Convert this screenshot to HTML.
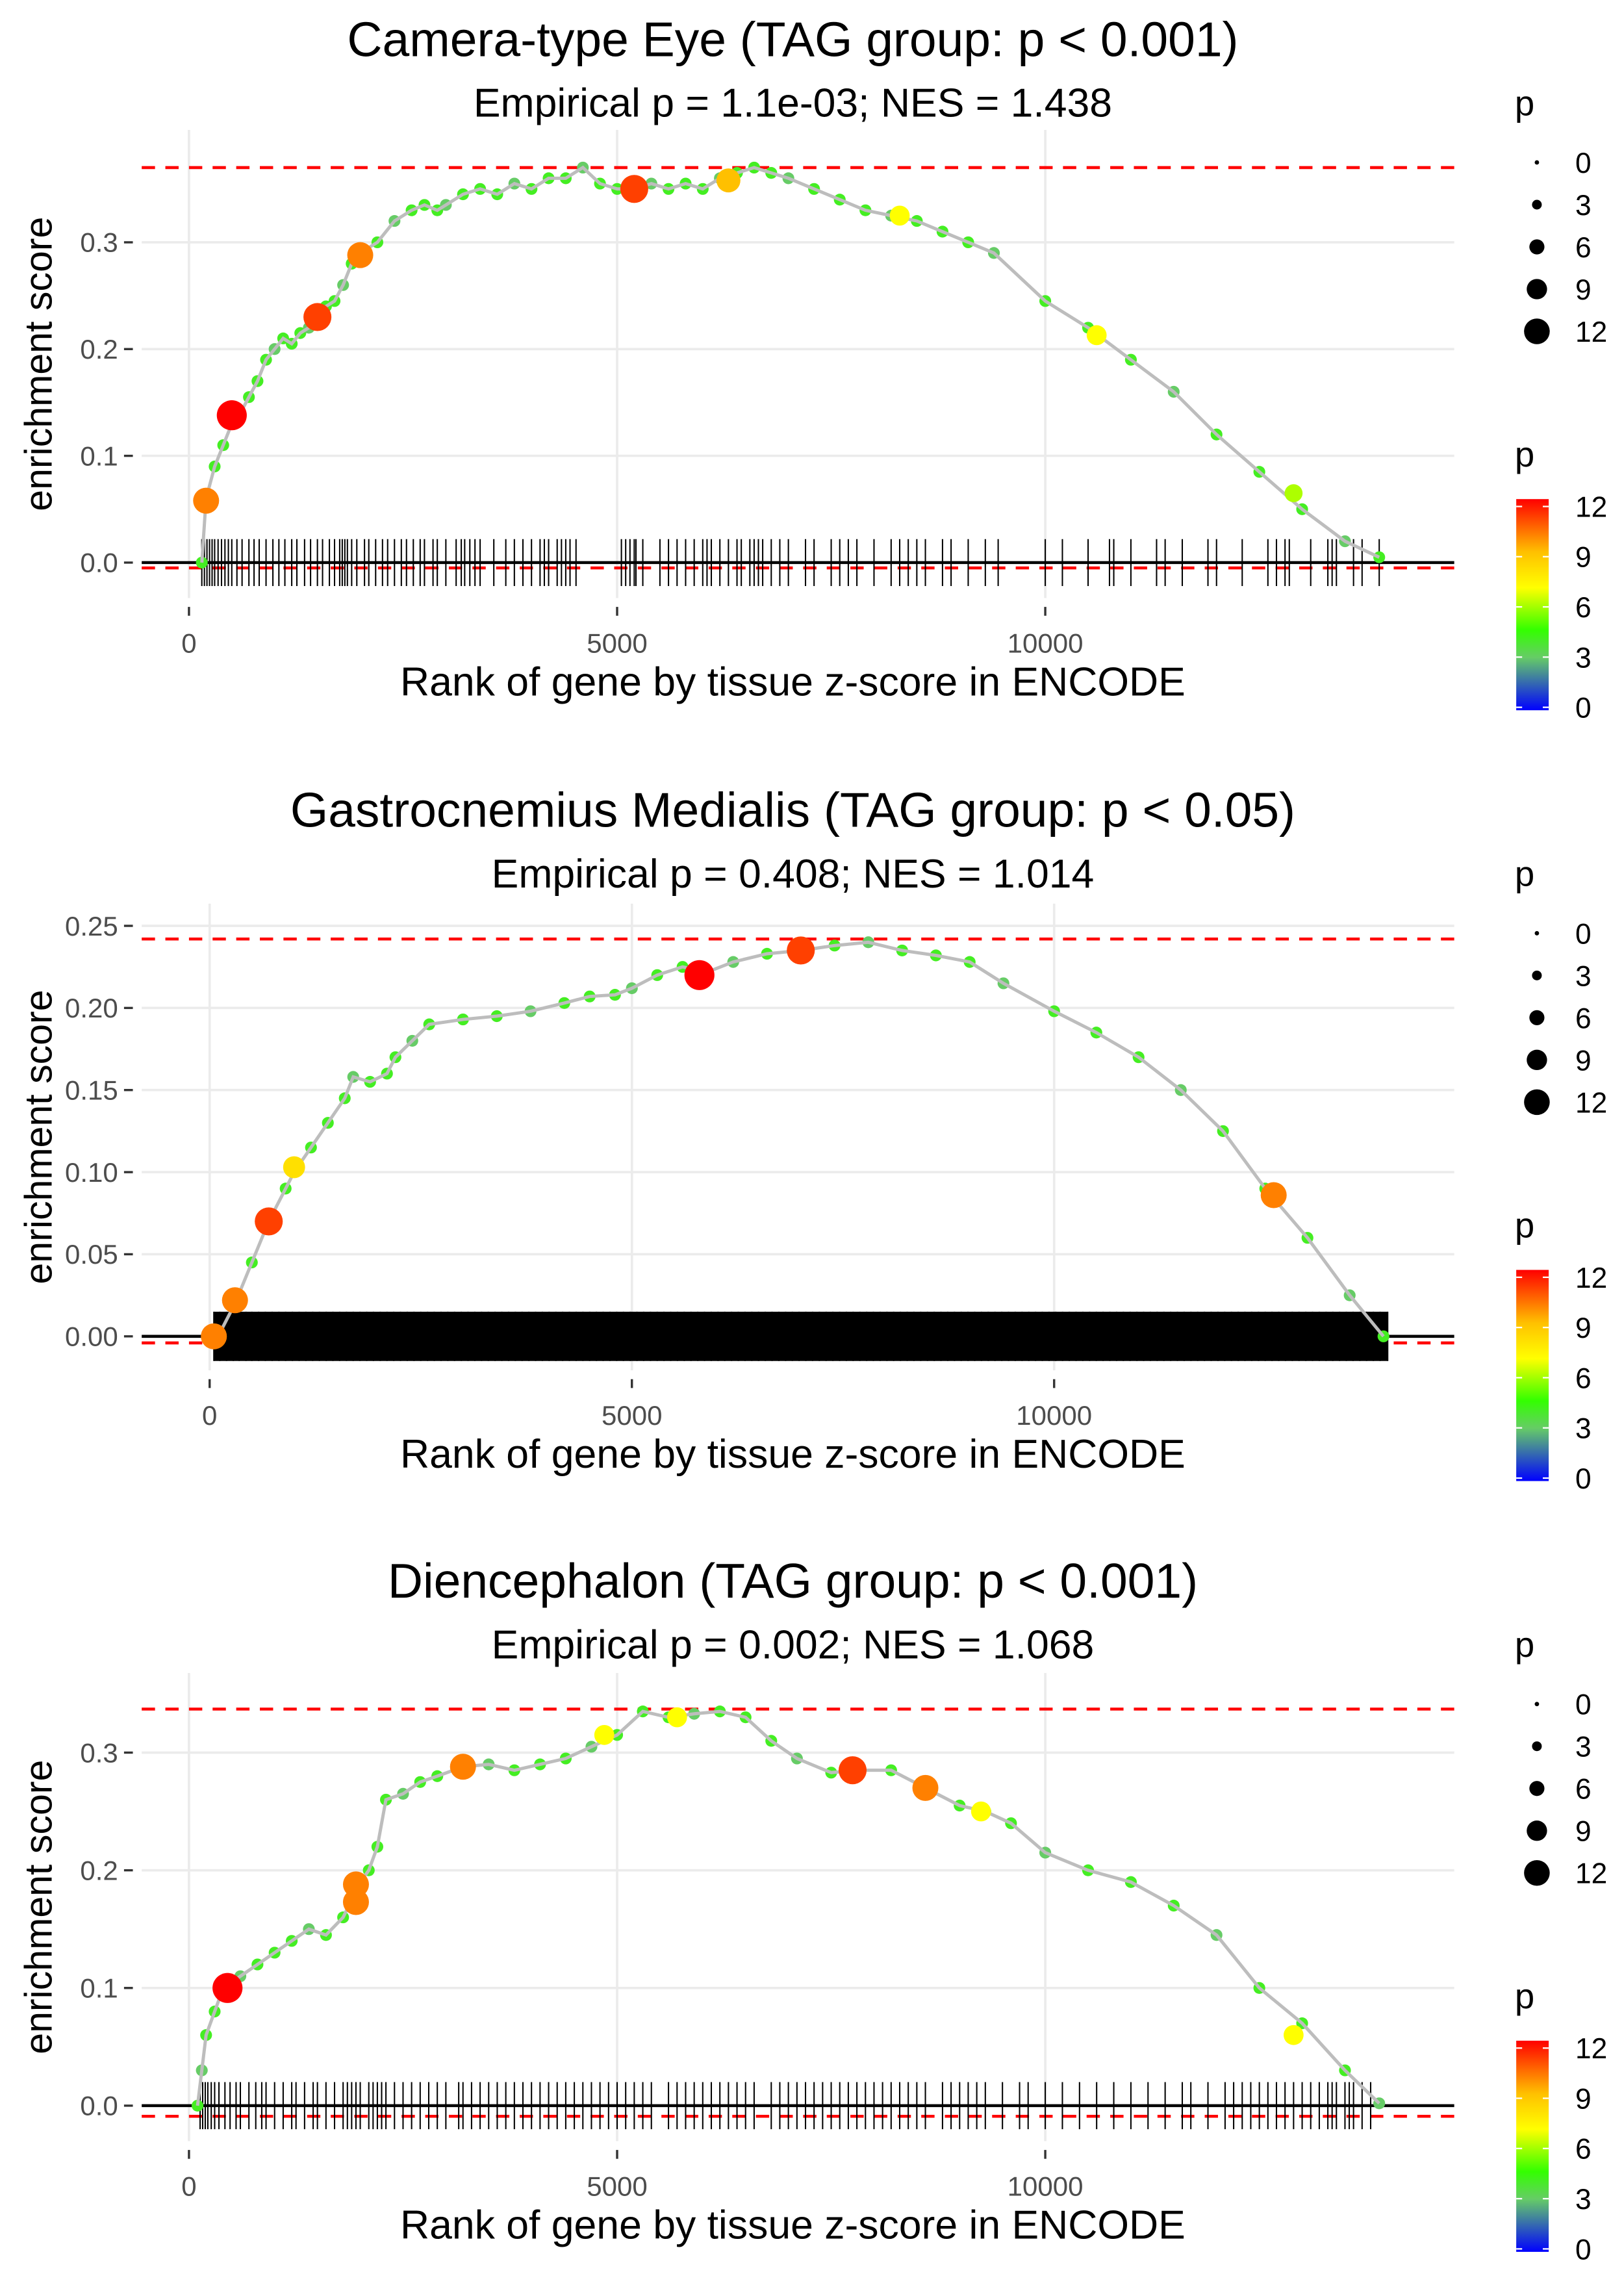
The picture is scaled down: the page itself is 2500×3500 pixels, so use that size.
<!DOCTYPE html>
<html><head><meta charset="utf-8"><style>
html,body{margin:0;padding:0;background:#fff}
svg{display:block}
text{font-family:"Liberation Sans",sans-serif}
</style></head><body>
<svg id="root" width="2500" height="3500" viewBox="0 0 1100 1540" xmlns="http://www.w3.org/2000/svg">
<defs>
<linearGradient id="pgrad" x1="0" y1="1" x2="0" y2="0">
<stop offset="0" stop-color="#0000ff"/><stop offset="0.25" stop-color="#66cc66"/><stop offset="0.38" stop-color="#33ff00"/><stop offset="0.58" stop-color="#ffff00"/><stop offset="0.75" stop-color="#ffc000"/><stop offset="1" stop-color="#ff0000"/>
</linearGradient>
</defs>
</svg>
<script>
// ---- Panel 1 data ----
const p1Ranks=[150,200,300,400,500,600,700,800,900,1000,1100,1200,1300,1400,1500,1600,1700,1800,1900,2000,2200,2400,2600,2750,2900,3000,3200,3400,3600,3800,4000,4200,4400,4600,4800,5000,5200,5400,5600,5800,6000,6200,6400,6600,6800,7000,7300,7600,7900,8200,8500,8800,9100,9400,10000,10500,11000,11500,12000,12500,13000,13500,13900];
const p1ES=[0,0.06,0.09,0.11,0.13,0.14,0.155,0.17,0.19,0.2,0.21,0.205,0.215,0.22,0.23,0.24,0.245,0.26,0.28,0.29,0.3,0.32,0.33,0.335,0.33,0.335,0.345,0.35,0.345,0.355,0.35,0.36,0.36,0.37,0.355,0.35,0.35,0.355,0.35,0.355,0.35,0.36,0.365,0.37,0.365,0.36,0.35,0.34,0.33,0.325,0.32,0.31,0.3,0.29,0.245,0.22,0.19,0.16,0.12,0.085,0.05,0.02,0.005];
const p1BigRanks=[200,500,1500,2000,5200,6300,8300,10600,12900];
const p1BigES=[0.058,0.138,0.23,0.288,0.35,0.358,0.325,0.213,0.065];
const p1BigP=[10,12,11,10,11,9,7,7,6];
const p1Rug=[150,180,210,240,270,300,340,380,420,460,500,560,620,700,760,820,900,980,1050,1120,1200,1260,1350,1420,1500,1560,1640,1700,1760,1790,1820,1850,1900,1960,2050,2100,2180,2260,2320,2400,2480,2540,2620,2700,2750,2850,2900,3000,3120,3180,3220,3280,3340,3400,3560,3700,3800,3900,4000,4100,4150,4200,4300,4350,4400,4450,4520,5050,5100,5150,5200,5220,5300,5500,5600,5700,5800,5900,6000,6050,6100,6200,6300,6400,6450,6550,6600,6650,6700,6800,6900,7000,7200,7300,7500,7600,7700,7800,8000,8200,8300,8400,8500,8600,8800,8900,9100,9300,9450,10000,10200,10500,10750,10800,11000,11300,11400,11600,11900,12000,12300,12600,12700,12800,12850,13100,13300,13350,13400,13600,13700,13900];
// ---- Panel 2 data ----
const p2Ranks=[100,300,500,700,900,1000,1200,1400,1600,1700,1900,2100,2200,2400,2600,3000,3400,3800,4200,4500,4800,5000,5300,5600,5900,6200,6600,7000,7400,7800,8200,8600,9000,9400,10000,10500,11000,11500,12000,12500,13000,13500,13900];
const p2ES=[0,0.02,0.045,0.07,0.09,0.1,0.115,0.13,0.145,0.158,0.155,0.16,0.17,0.18,0.19,0.193,0.195,0.198,0.203,0.207,0.208,0.212,0.22,0.225,0.222,0.228,0.233,0.235,0.238,0.24,0.235,0.232,0.228,0.215,0.198,0.185,0.17,0.15,0.125,0.09,0.06,0.025,0];
const p2BigRanks=[50,300,700,1000,5800,7000,12600];
const p2BigES=[0.0,0.022,0.07,0.103,0.22,0.235,0.086];
const p2BigP=[10,10,11,8,12,11,10];
const p2Rug=[50,120,200,280,350,430,500,580,660,740,820,900,980,1060,1140,1220,1300,1380,1460,1540,1620,1700,1780,1860,1940,2020,2100,2180,2260,2340,2420,2500,2580,2660,2740,2820,2900,2980,3060,3140,3220,3300,3380,3460,3540,3620,3700,3780,3860,3940,4020,4100,4180,4260,4340,4420,4500,4580,4660,4740,4820,4900,4980,5060,5140,5220,5300,5380,5460,5540,5620,5700,5780,5860,5940,6020,6100,6180,6260,6340,6420,6500,6580,6660,6740,6820,6900,6980,7060,7140,7220,7300,7380,7460,7540,7620,7700,7780,7860,7940,8020,8100,8180,8260,8340,8420,8500,8580,8660,8740,8820,8900,8980,9060,9140,9220,9300,9380,9460,9540,9620,9700,9780,9860,9940,10020,10100,10180,10260,10340,10420,10500,10580,10660,10740,10820,10900,10980,11060,11140,11220,11300,11380,11460,11540,11620,11700,11780,11860,11940,12020,12100,12180,12260,12340,12420,12500,12580,12660,12740,12820,12900,12980,13060,13140,13220,13300,13380,13460,13540,13620,13700,13780,13860,13950];
// ---- Panel 3 data ----
const p3Ranks=[100,150,200,300,400,600,800,1000,1200,1400,1600,1800,1900,2000,2100,2200,2300,2500,2700,2900,3200,3500,3800,4100,4400,4700,5000,5300,5600,5900,6200,6500,6800,7100,7500,7800,8200,8600,9000,9300,9600,10000,10500,11000,11500,12000,12500,13000,13500,13900];
const p3ES=[0,0.03,0.06,0.08,0.1,0.11,0.12,0.13,0.14,0.15,0.145,0.16,0.175,0.19,0.2,0.22,0.26,0.265,0.275,0.28,0.288,0.29,0.285,0.29,0.295,0.305,0.315,0.335,0.33,0.333,0.335,0.33,0.31,0.295,0.283,0.285,0.285,0.27,0.255,0.25,0.24,0.215,0.2,0.19,0.17,0.145,0.1,0.07,0.03,0.002];
const p3BigRanks=[450,1950,1950,3200,4850,5700,7750,8600,9250,12900];
const p3BigES=[0.1,0.173,0.188,0.288,0.315,0.33,0.285,0.27,0.25,0.06];
const p3BigP=[12,10,10,10,7,7,11,10,7,7];
const p3Rug=[130,160,190,220,260,300,350,420,480,550,600,700,780,850,900,1000,1100,1200,1250,1350,1450,1500,1600,1700,1800,1850,1900,1950,2000,2100,2150,2200,2250,2300,2400,2500,2600,2700,2800,2900,3000,3150,3200,3300,3400,3500,3600,3700,3800,3900,4000,4100,4200,4300,4400,4500,4600,4700,4800,4900,5000,5100,5200,5300,5400,5600,5700,5800,5900,6000,6100,6200,6300,6400,6500,6600,6800,6900,7000,7100,7200,7300,7400,7500,7600,7700,7800,7900,8000,8100,8200,8300,8400,8500,8600,8800,8900,9000,9100,9200,9300,9500,9700,9800,10000,10200,10400,10600,10800,11000,11200,11400,11600,11700,11900,12100,12200,12300,12400,12500,12600,12700,12800,12900,13000,13100,13200,13300,13350,13400,13500,13550,13600,13700,13800];

const NS="http://www.w3.org/2000/svg";
const root=document.getElementById('root');
function mk(tag,attrs,parent,txt){const e=document.createElementNS(NS,tag);for(const k in attrs)e.setAttribute(k,attrs[k]);if(txt!==undefined)e.textContent=txt;(parent||root).appendChild(e);return e;}
function pcolor(p){const stops=[[0,[0,0,255]],[3,[102,204,102]],[4.5,[51,255,0]],[7,[255,255,0]],[9,[255,192,0]],[12,[255,0,0]]];
 for(let i=1;i<stops.length;i++){if(p<=stops[i][0]){const a=stops[i-1],b=stops[i],t=(p-a[0])/(b[0]-a[0]);return 'rgb('+a[1].map((v,j)=>Math.round(v+(b[1][j]-v)*t)).join(',')+')';}}return 'rgb(255,0,0)';}

function panel(o){
 const g=mk('g',{});
 
 
 const X=r=>o.x0+r*o.xs, Y=v=>o.y0-v*o.ys;
 const L=96,R=985;
 o.yticks.forEach((t,i)=>{const gl=mk('line',{x1:L,x2:R,y1:Y(t),y2:Y(t),stroke:'#ebebeb','stroke-width':1.6},g);
  const tk=mk('line',{x1:L-12,x2:L-6,y1:Y(t),y2:Y(t),stroke:'#333','stroke-width':1.5},g);
  const tl=mk('text',{x:L-16,y:Y(t)+6.5,'text-anchor':'end','font-size':18.5,fill:'#4d4d4d'},g,o.ylabels[i]);});
 [0,5000,10000].forEach(t=>{const gl=mk('line',{x1:X(t),x2:X(t),y1:o.top,y2:o.bot,stroke:'#ebebeb','stroke-width':1.6},g);
  const tk=mk('line',{x1:X(t),x2:X(t),y1:o.bot+6,y2:o.bot+12,stroke:'#333','stroke-width':1.5},g);
  const tl=mk('text',{x:X(t),y:o.bot+37,'text-anchor':'middle','font-size':18.5,fill:'#4d4d4d'},g,String(t));});
 const d1=mk('line',{x1:L,x2:R,y1:Y(o.esMax),y2:Y(o.esMax),stroke:'#ff0000','stroke-width':2,'stroke-dasharray':'9,7'},g);
 const d2=mk('line',{x1:L,x2:R,y1:Y(o.esMin),y2:Y(o.esMin),stroke:'#ff0000','stroke-width':2,'stroke-dasharray':'9,7'},g);
 if(o.band){const b=mk('rect',{x:X(o.rug[0]),y:Y(o.rugH),width:X(o.rug[o.rug.length-1])-X(o.rug[0]),height:Y(-o.rugH)-Y(o.rugH),fill:'#000'},g);}
 o.rug.forEach(r=>{const l=mk('line',{x1:X(r),x2:X(r),y1:Y(o.rugH),y2:Y(-o.rugH),stroke:'#000','stroke-width':0.9},g);});
 const z=mk('line',{x1:L,x2:R,y1:Y(0),y2:Y(0),stroke:'#000','stroke-width':2},g);
 o.ranks.forEach((r,i)=>{const c=mk('circle',{cx:X(r),cy:Y(o.es[i]),r:4,fill:(i%4==1?'#66cc66':'#44ee22')},g);});
 const pl=mk('polyline',{points:o.ranks.map((r,i)=>X(r)+','+Y(o.es[i])).join(' '),fill:'none',stroke:'#bdbdbd','stroke-width':2.2},g);
 o.bigR.forEach((r,i)=>{const c=mk('circle',{cx:X(r),cy:Y(o.bigE[i]),r:2+o.bigP[i]*0.68,fill:pcolor(o.bigP[i])},g);});
 const t=mk('text',{x:537,y:o.titleY,'text-anchor':'middle','font-size':33,fill:'#000'},g,o.title);
 const s=mk('text',{x:537,y:o.titleY+41,'text-anchor':'middle','font-size':27.5,fill:'#000'},g,o.sub);
 const xt=mk('text',{x:537,y:o.bot+66,'text-anchor':'middle','font-size':27.5,fill:'#000'},g,'Rank of gene by tissue z-score in ENCODE');
 const yc=(o.top+o.bot)/2;
 const yt=mk('text',{x:0,y:0,transform:'translate(35,'+yc+') rotate(-90)','text-anchor':'middle','font-size':26,fill:'#000'},g,'enrichment score');
 const ly=o.titleY+40;
 const sl=mk('text',{x:1026,y:ly,'font-size':24},g,'p');
 [0,3,6,9,12].forEach((v,i)=>{const c=mk('circle',{cx:1041,cy:ly+32+i*28.6,r:1.5+v*0.6,fill:'#000'},g);
  const tx=mk('text',{x:1067,y:ly+39+i*28.6,'font-size':19.5},g,String(v));});
 const cy0=ly+238;
 const cl=mk('text',{x:1026,y:cy0,'font-size':24},g,'p');
 const bar=mk('rect',{x:1027,y:cy0+22,width:22,height:143,fill:'url(#pgrad)'},g);
 [12,9,6,3,0].forEach((v,i)=>{const yy=cy0+27+i*34;
  mk('line',{x1:1027,x2:1031,y1:yy,y2:yy,stroke:'#fff','stroke-width':1},g);mk('line',{x1:1045,x2:1049,y1:yy,y2:yy,stroke:'#fff','stroke-width':1},g);
  const tx=mk('text',{x:1067,y:yy+7,'font-size':19.5},g,String(v));});
}
panel({name:'panel-camera-type-eye',x0:128,xs:0.058,y0:381,ys:723,top:88,bot:405,yticks:[0,0.1,0.2,0.3],ylabels:['0.0','0.1','0.2','0.3'],esMax:0.37,esMin:-0.005,rug:p1Rug,rugH:0.022,band:false,ranks:p1Ranks,es:p1ES,bigR:p1BigRanks,bigE:p1BigES,bigP:p1BigP,titleY:38,title:'Camera-type Eye (TAG group: p < 0.001)',sub:'Empirical p = 1.1e-03; NES = 1.438'});
panel({name:'panel-gastrocnemius-medialis',x0:142,xs:0.0572,y0:905,ys:1112,top:612,bot:928,yticks:[0,0.05,0.1,0.15,0.2,0.25],ylabels:['0.00','0.05','0.10','0.15','0.20','0.25'],esMax:0.242,esMin:-0.004,rug:p2Rug,rugH:0.015,band:true,ranks:p2Ranks,es:p2ES,bigR:p2BigRanks,bigE:p2BigES,bigP:p2BigP,titleY:560,title:'Gastrocnemius Medialis (TAG group: p < 0.05)',sub:'Empirical p = 0.408; NES = 1.014'});
panel({name:'panel-diencephalon',x0:128,xs:0.058,y0:1426,ys:797,top:1133,bot:1450,yticks:[0,0.1,0.2,0.3],ylabels:['0.0','0.1','0.2','0.3'],esMax:0.337,esMin:-0.009,rug:p3Rug,rugH:0.02,band:false,ranks:p3Ranks,es:p3ES,bigR:p3BigRanks,bigE:p3BigES,bigP:p3BigP,titleY:1082,title:'Diencephalon (TAG group: p < 0.001)',sub:'Empirical p = 0.002; NES = 1.068'});
</script>
</body></html>
